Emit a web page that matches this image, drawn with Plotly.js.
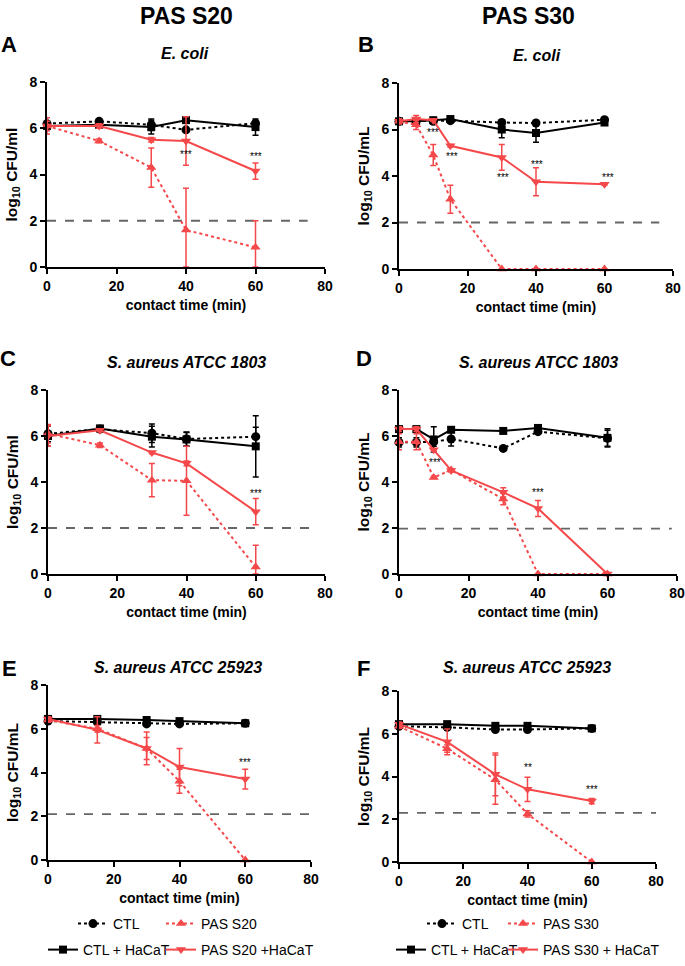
<!DOCTYPE html>
<html>
<head>
<meta charset="utf-8">
<script src="https://cdn.plot.ly/plotly-3.0.1.min.js"></script>
<style>body{margin:0;background:#fff;}</style>
</head>
<body>
<div id="kill_curves" style="width:685px;height:966px;"></div>
<script>
// contact times (min)
var tShort = [0, 15, 30, 40, 60];
var tLong = [0, 5, 10, 15, 30, 40, 60];

// A - PAS S20, E. coli
var a_ctl = [6.2, 6.3, 6.15, 5.93, 6.22];
var a_ctl_sd = [0.08, 0.08, 0.25, 0.08, 0.12];
var a_ctlH = [6.1, 6.15, 6.05, 6.35, 6.05];
var a_ctlH_sd = [0.2, 0.12, 0.3, 0.12, 0.35];
var a_pas = [6.1, 5.45, 4.3, 1.6, 0.85];
var a_pas_sd = [0.2, 0.08, 0.85, 1.8, 1.15];
var a_pasH = [6.1, 6.1, 5.5, 5.45, 4.15];
var a_pasH_sd = [0.35, 0.1, 0.1, 1.05, 0.35];

// B - PAS S30, E. coli
var b_ctl = [6.35, 6.35, 6.35, 6.38, 6.3, 6.28, 6.42];
var b_ctl_sd = [0.05, 0.05, 0.05, 0.05, 0.05, 0.05, 0.05];
var b_ctlH = [6.35, 6.35, 6.4, 6.45, 6.0, 5.85, 6.3];
var b_ctlH_sd = [0.1, 0.1, 0.1, 0.05, 0.35, 0.4, 0.08];
var b_pas = [6.35, 6.2, 4.9, 3.0, 0, 0, 0];
var b_pas_sd = [0.1, 0.2, 0.45, 0.6, 0, 0, 0];
var b_pasH = [6.35, 6.45, 6.4, 5.3, 4.8, 3.75, 3.65];
var b_pasH_sd = [0.1, 0.15, 0.05, 0.05, 0.55, 0.6, 0.05];

// C - PAS S20, S. aureus ATCC 1803
var c_ctl = [6.1, 6.3, 6.12, 5.87, 5.97];
var c_ctl_sd = [0.35, 0.05, 0.4, 0.3, 0.41];
var c_ctlH = [6.0, 6.33, 5.97, 5.85, 5.55];
var c_ctlH_sd = [0.45, 0.05, 0.45, 0.3, 1.33];
var c_pas = [6.1, 5.6, 4.08, 4.05, 0.3];
var c_pas_sd = [0.4, 0.1, 0.72, 1.5, 0.95];
var c_pasH = [6.0, 6.25, 5.28, 4.81, 2.71];
var c_pasH_sd = [0.45, 0.05, 0.05, 0.1, 0.57];

// D - PAS S30, S. aureus ATCC 1803
var d_ctl = [5.72, 5.72, 5.75, 5.87, 5.46, 6.19, 5.9];
var d_ctl_sd = [0.2, 0.2, 0.2, 0.3, 0.05, 0.05, 0.35];
var d_ctlH = [6.3, 6.3, 5.85, 6.27, 6.22, 6.35, 5.92];
var d_ctlH_sd = [0.1, 0.05, 0.55, 0.05, 0.05, 0.05, 0.4];
var d_pas = [5.75, 5.75, 4.2, 4.52, 3.26, 0, 0];
var d_pas_sd = [0.35, 0.35, 0.05, 0.05, 0.25, 0, 0];
var d_pasH = [6.3, 6.3, 5.4, 4.5, 3.55, 2.85, 0];
var d_pasH_sd = [0.1, 0.1, 0.05, 0.05, 0.2, 0.35, 0];

// E - PAS S20, S. aureus ATCC 25923
var e_ctl = [6.35, 6.3, 6.22, 6.22, 6.25];
var e_ctl_sd = [0.05, 0.05, 0.05, 0.05, 0.05];
var e_ctlH = [6.45, 6.45, 6.4, 6.35, 6.25];
var e_ctlH_sd = [0.05, 0.05, 0.05, 0.05, 0.05];
var e_pas = [6.4, 6.0, 5.1, 3.6, 0];
var e_pas_sd = [0.1, 0.15, 0.75, 0.55, 0];
var e_pasH = [6.45, 5.95, 5.1, 4.25, 3.7];
var e_pasH_sd = [0.1, 0.6, 0.5, 0.85, 0.45];

// F - PAS S30, S. aureus ATCC 25923
var f_ctl = [6.35, 6.3, 6.2, 6.2, 6.25];
var f_ctl_sd = [0.05, 0.05, 0.05, 0.05, 0.05];
var f_ctlH = [6.45, 6.45, 6.37, 6.37, 6.25];
var f_ctlH_sd = [0.05, 0.05, 0.05, 0.05, 0.05];
var f_pas = [6.35, 5.3, 3.85, 2.25, 0];
var f_pas_sd = [0.1, 0.17, 1.15, 0.15, 0];
var f_pasH = [6.45, 5.62, 4.1, 3.4, 2.85];
var f_pasH_sd = [0.1, 0.6, 1.0, 0.57, 0.12];

// detection limit lines (y value, x end)
var lodY = [2, 2, 2, 1.97, 2.1, 2.3];
var lodEnd = [75, 76, 76.5, 78.5, 80, 80];

// significance marks [panel, x, y, text]
var stars = [
  [1, 40, 4.85, '***'], [1, 60, 4.8, '***'],
  [2, 10, 5.85, '***'], [2, 15.5, 4.85, '***'], [2, 30.5, 3.95, '***'], [2, 40.3, 4.5, '***'], [2, 61, 3.95, '***'],
  [3, 60, 3.5, '***'],
  [4, 10.3, 4.85, '***'], [4, 40, 3.55, '***'],
  [5, 60, 4.45, '***'],
  [6, 40, 4.4, '**'], [6, 60, 3.4, '***']
];

var RED = '#f5484a';
var FONT = 'Liberation Sans, Arial, sans-serif';
var W = 685, H = 966;

var styles = {
  ctl:  {color: 'black', dash: 'dot',   symbol: 'circle',        size: 9},
  ctlH: {color: 'black', dash: 'solid', symbol: 'square',        size: 8},
  pas:  {color: RED,     dash: 'dot',   symbol: 'triangle-up',   size: 9},
  pasH: {color: RED,     dash: 'solid', symbol: 'triangle-down', size: 9}
};

function series(n, xs, ys, sd, kind, name, legend) {
  var s = styles[kind];
  return {
    x: xs, y: ys, name: name,
    xaxis: 'x' + (n === 1 ? '' : n), yaxis: 'y' + (n === 1 ? '' : n),
    type: 'scatter', mode: 'lines+markers', cliponaxis: false,
    line: {color: s.color, width: 2, dash: s.dash},
    marker: {color: s.color, symbol: s.symbol, size: s.size},
    error_y: {type: 'data', array: sd,
      arrayminus: sd.map(function(v, i) { return Math.min(v, ys[i]); }),
      color: s.color, thickness: 1.5, width: 3},
    showlegend: !!legend, legend: legend || 'legend'
  };
}

var panels = [
  [tShort, a_ctl, a_ctl_sd, a_ctlH, a_ctlH_sd, a_pas, a_pas_sd, a_pasH, a_pasH_sd],
  [tLong, b_ctl, b_ctl_sd, b_ctlH, b_ctlH_sd, b_pas, b_pas_sd, b_pasH, b_pasH_sd],
  [tShort, c_ctl, c_ctl_sd, c_ctlH, c_ctlH_sd, c_pas, c_pas_sd, c_pasH, c_pasH_sd],
  [tLong, d_ctl, d_ctl_sd, d_ctlH, d_ctlH_sd, d_pas, d_pas_sd, d_pasH, d_pasH_sd],
  [tShort, e_ctl, e_ctl_sd, e_ctlH, e_ctlH_sd, e_pas, e_pas_sd, e_pasH, e_pasH_sd],
  [tShort, f_ctl, f_ctl_sd, f_ctlH, f_ctlH_sd, f_pas, f_pas_sd, f_pasH, f_pasH_sd]
];

// one legend per entry: [ctl, ctlH, pas, pasH] for panel A then panel B
var legIds = {
  1: ['legend', 'legend2', 'legend3', 'legend4'],
  2: ['legend5', 'legend6', 'legend7', 'legend8']
};

var data = [];
panels.forEach(function(p, i) {
  var n = i + 1;
  var pasName = (n % 2 === 1) ? 'PAS S20' : 'PAS S30';
  var pasHName = (n % 2 === 1) ? 'PAS S20 +HaCaT' : 'PAS S30 + HaCaT';
  var L = legIds[n] || [null, null, null, null];
  // detection limit
  data.push({x: [0, lodEnd[i]], y: [lodY[i], lodY[i]], type: 'scatter', mode: 'lines',
    xaxis: 'x' + (n === 1 ? '' : n), yaxis: 'y' + (n === 1 ? '' : n),
    line: {color: '#666666', width: 1.8, dash: 'dash'}, showlegend: false, hoverinfo: 'skip'});
  data.push(series(n, p[0], p[1], p[2], 'ctl', 'CTL', L[0]));
  data.push(series(n, p[0], p[3], p[4], 'ctlH', 'CTL + HaCaT', L[1]));
  data.push(series(n, p[0], p[5], p[6], 'pas', pasName, L[2]));
  data.push(series(n, p[0], p[7], p[8], 'pasH', pasHName, L[3]));
});

// plot areas in pixels [left, right, top, bottom]
var boxes = [
  [47, 325, 82, 267], [399, 673, 83, 269],
  [48, 325, 390, 574], [399, 677, 390, 574],
  [48, 311, 685, 860], [399, 656, 691, 862]
];
var ytitles = ['log<sub>10</sub> CFU/ml', 'log<sub>10</sub> CFU/mL', 'log<sub>10</sub> CFU/ml',
               'log<sub>10</sub> CFU/mL', 'log<sub>10</sub> CFU/mL', 'log<sub>10</sub> CFU/mL'];

var layout = {
  width: W, height: H, autosize: false,
  margin: {l: 0, r: 0, t: 0, b: 0},
  paper_bgcolor: 'white', plot_bgcolor: 'white',
  font: {family: FONT, color: 'black'},
  annotations: [], hovermode: false
};

boxes.forEach(function(b, i) {
  var n = i + 1, k = n === 1 ? '' : n;
  layout['xaxis' + k] = {
    domain: [b[0] / W, b[1] / W], anchor: 'y' + k, range: [0, 80],
    tickvals: [0, 20, 40, 60, 80], showgrid: false, zeroline: false,
    showline: true, linewidth: 2, linecolor: 'black',
    ticks: 'outside', ticklen: 5, tickwidth: 2, tickcolor: 'black',
    tickfont: {size: 14, weight: 'bold'},
    title: {text: 'contact time (min)', font: {size: 14, weight: 'bold'}, standoff: 7}
  };
  layout['yaxis' + k] = {
    domain: [1 - b[3] / H, 1 - b[2] / H], anchor: 'x' + k, range: [0, 8],
    tickvals: [0, 2, 4, 6, 8], showgrid: false, zeroline: false,
    showline: true, linewidth: 2, linecolor: 'black',
    ticks: 'outside', ticklen: 5, tickwidth: 2, tickcolor: 'black',
    tickfont: {size: 14, weight: 'bold'},
    title: {text: ytitles[i], font: {size: 15.5, weight: 'bold'}, standoff: 8}
  };
});

// legends: one entry each, placed like the two-row key under each column
// (bottom-anchored so that none of them reaches past the page edge)
var legBase = {orientation: 'h', xanchor: 'left', yanchor: 'bottom', bgcolor: 'rgba(0,0,0,0)',
  font: {size: 14, family: FONT}, itemwidth: 30, itemclick: false};
var legPos = [
  ['legend', 73, 940], ['legend2', 43, 966], ['legend3', 161, 940], ['legend4', 161, 966],
  ['legend5', 422, 940], ['legend6', 391, 966], ['legend7', 503, 940], ['legend8', 503, 966]
];
legPos.forEach(function(l) {
  layout[l[0]] = Object.assign({}, legBase, {x: l[1] / W, y: 1 - l[2] / H});
});

function label(text, px, py, size, extra) {
  layout.annotations.push(Object.assign({
    text: text, x: px / W, y: 1 - py / H, xref: 'paper', yref: 'paper',
    showarrow: false, xanchor: 'center', yanchor: 'middle',
    font: {size: size, family: FONT, color: 'black', weight: 'bold'}
  }, extra || {}));
}

label('PAS S20', 186, 16, 23);
label('PAS S30', 528, 16, 23);
label('A', 9, 44, 22); label('B', 366, 44, 22);
label('C', 8, 358, 22); label('D', 364, 358, 22);
label('E', 9, 668, 22); label('F', 363, 668, 22);
label('<i>E. coli</i>', 185, 54, 16);
label('<i>E. coli</i>', 537, 55, 16);
label('<i>S. aureus ATCC 1803</i>', 187, 362, 16);
label('<i>S. aureus ATCC 1803</i>', 538, 362, 16);
label('<i>S. aureus ATCC 25923</i>', 178, 667, 16);
label('<i>S. aureus ATCC 25923</i>', 527, 667, 16);

stars.forEach(function(s) {
  var k = s[0] === 1 ? '' : s[0];
  layout.annotations.push({text: s[3], x: s[1], y: s[2], xref: 'x' + k, yref: 'y' + k,
    showarrow: false, font: {size: 10, family: FONT, color: 'black'}});
});

Plotly.newPlot('kill_curves', data, layout, {staticPlot: true});
</script>
</body>
</html>
